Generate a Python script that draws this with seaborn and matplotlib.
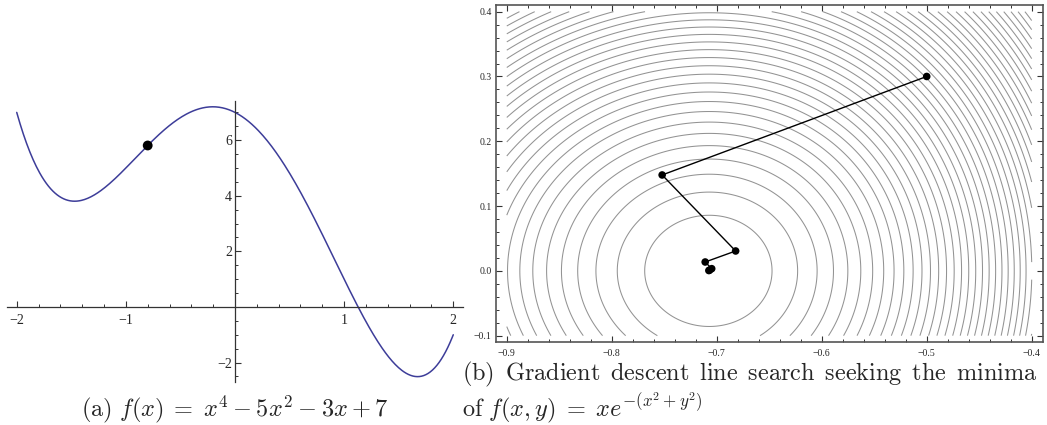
import numpy as np
import pandas as pd
import seaborn as sns
import matplotlib.pyplot as plt
from matplotlib.ticker import MultipleLocator, FixedLocator

# panel (a): polynomial, highest power first
poly_coeffs = [1, 0, -5, -2, 7]
curve_x_range = [-2, 2]
marked_x = [-0.8]

# panel (b): contour region and the line-search iterates
contour_x_range = [-0.9, -0.4]
contour_y_range = [-0.1, 0.4]
n_contours = 43
path_x = [-0.5, -0.752, -0.682, -0.711, -0.7048, -0.7075, -0.7068]
path_y = [0.3, 0.148, 0.0307, 0.0137, 0.0034, 0.0005, 0.0012]

caption_a = r'$\mathrm{(a)}\ f(x)\;=\;x^4 - 5x^2 - 3x + 7$'
# widened spaces stand in for LaTeX's justified word spacing
caption_b1 = (r'$\mathrm{(b)\ \,Gradient\ \,descent\ \,line\ \,search'
              r'\ \,seeking\ \,the\ \,minima}$')
caption_b2 = r'$\mathrm{of}\ f(x,y)\;=\;xe^{-(x^2+y^2)}$'

sns.set_style("ticks")
plt.rcParams['font.family'] = ['Liberation Serif', 'DejaVu Serif']
plt.rcParams['mathtext.fontset'] = 'cm'

fig = plt.figure(figsize=(10.47, 4.25), dpi=100)

# ---- left: 1-D function, axes through the origin
ax1 = fig.add_axes([0.0066, 0.1005, 0.4357, 0.6625])
xs = np.linspace(curve_x_range[0], curve_x_range[1], 400)
curve = pd.DataFrame({'x': xs, 'y': np.polyval(poly_coeffs, xs)})
sns.lineplot(data=curve, x='x', y='y', ax=ax1, color=(0.24, 0.24, 0.6), lw=1.1)
sns.scatterplot(x=marked_x, y=np.polyval(poly_coeffs, marked_x), ax=ax1,
                color='black', s=50, edgecolor='none', zorder=5)
ax1.set_xlim(-2.09, 2.09)
ax1.set_ylim(-2.71, 7.42)
ax1.set_xlabel('')
ax1.set_ylabel('')
for side in ['top', 'right']:
    ax1.spines[side].set_visible(False)
for side in ['left', 'bottom']:
    ax1.spines[side].set_position(('data', 0))
    ax1.spines[side].set_color('#333333')
    ax1.spines[side].set_linewidth(0.9)
ax1.xaxis.set_major_locator(FixedLocator([-2, -1, 1, 2]))
ax1.xaxis.set_minor_locator(MultipleLocator(0.2))
ax1.yaxis.set_major_locator(FixedLocator([-2, 2, 4, 6]))
ax1.yaxis.set_minor_locator(MultipleLocator(0.5))
ax1.tick_params(which='both', direction='in', color='#333333', labelsize=10)
ax1.tick_params(which='major', length=4, width=0.8)
ax1.tick_params(which='minor', length=2.5, width=0.7)
ax1.tick_params(axis='x', pad=5)
ax1.tick_params(axis='y', pad=2)

# ---- right: contour plot with the descent path
ax2 = fig.add_axes([0.4735, 0.196, 0.5227, 0.793])
gx = np.linspace(contour_x_range[0], contour_x_range[1], 400)
gy = np.linspace(contour_y_range[0], contour_y_range[1], 400)
X, Y = np.meshgrid(gx, gy)
Z = X * np.exp(-(X ** 2 + Y ** 2))
levels = np.linspace(Z.min(), Z.max(), n_contours + 2)[1:-1]
ax2.contour(X, Y, Z, levels=levels, colors='#939393', linewidths=0.75,
            linestyles='solid')
sns.lineplot(x=path_x, y=path_y, sort=False, estimator=None, ax=ax2,
             color='black', lw=1.0)
sns.scatterplot(x=path_x, y=path_y, ax=ax2, color='black', s=30,
                edgecolor='none', zorder=5)
ax2.set_xlim(-0.9105, -0.3892)
ax2.set_ylim(-0.1093, 0.4108)
ax2.set_xlabel('')
ax2.set_ylabel('')
for side in ax2.spines.values():
    side.set_color('#555555')
    side.set_linewidth(1.2)
ax2.xaxis.set_major_locator(MultipleLocator(0.1))
ax2.xaxis.set_minor_locator(MultipleLocator(0.02))
ax2.yaxis.set_major_locator(MultipleLocator(0.1))
ax2.yaxis.set_minor_locator(MultipleLocator(0.02))
ax2.tick_params(which='both', direction='in', top=True, right=True,
                color='#333333', labelsize=7)
ax2.tick_params(which='major', length=4, width=0.8)
ax2.tick_params(which='minor', length=2.5, width=0.7)
ax2.tick_params(axis='x', pad=5)
ax2.tick_params(axis='y', pad=3)

# captions
fig.text(0.2245, 0.0195, caption_a, ha='center', va='baseline', fontsize=17.5)
fig.text(0.4413, 0.104, caption_b1, ha='left', va='baseline', fontsize=17.5)
fig.text(0.4413, 0.0195, caption_b2, ha='left', va='baseline', fontsize=17.5)

plt.savefig("out.png", dpi=100)
